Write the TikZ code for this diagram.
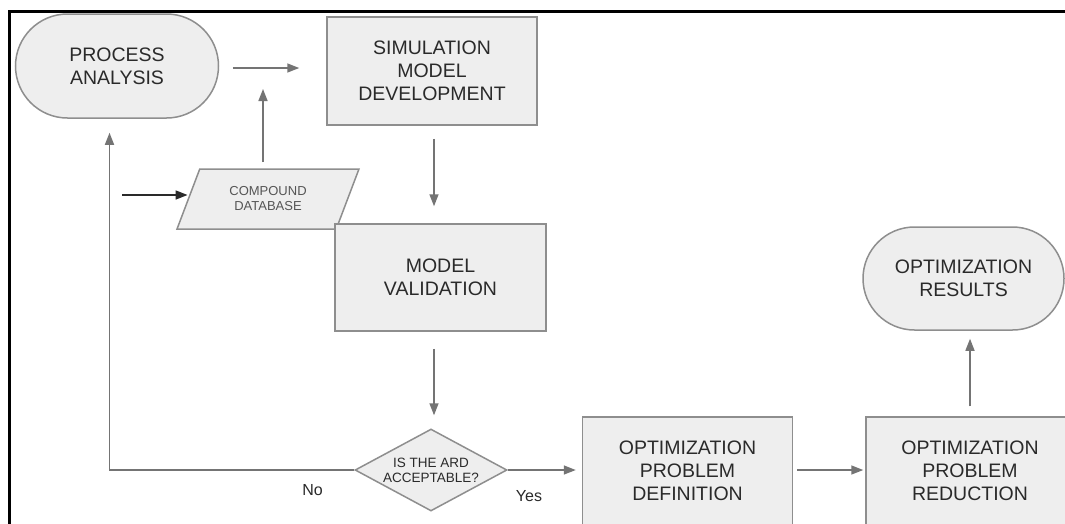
\documentclass[tikz,border=0pt]{standalone}
\usepackage{fontspec}
\setmainfont{Liberation Sans}
\usetikzlibrary{shapes.misc,shapes.geometric,arrows.meta}
\definecolor{boxfill}{HTML}{EEEEEE}
\definecolor{boxline}{HTML}{8E8E8E}
\definecolor{arrline}{HTML}{747474}
\definecolor{txt}{HTML}{2A2A2A}
\begin{document}
\begin{tikzpicture}[x=1pt,y=-1pt,
  base/.style={draw=boxline,fill=boxfill,line width=1.5pt,text=txt,align=center,inner sep=0pt,
    font=\fontsize{19.5}{23}\selectfont},
  term/.style={base,rounded rectangle},
  proc/.style={base,rectangle},
  data/.style={base,trapezium,trapezium left angle=62,trapezium right angle=118,trapezium stretches=true,
    font=\fontsize{13}{15}\selectfont,text=txt!80},
  decision/.style={base,diamond,aspect=1.85,font=\fontsize{13.5}{15}\selectfont},
  arr/.style={draw=arrline,line width=1.5pt,-{Triangle[length=12pt,width=9pt]}},
  darr/.style={draw=txt,line width=1.5pt,-{Triangle[length=12pt,width=9pt]}},
  lbl/.style={text=txt,inner sep=0pt,font=\fontsize{16}{18}\selectfont}]
\useasboundingbox[fill=white] (0,0) rectangle (1065,523);
% frame
\draw[line width=3pt,black] (9.5,530) -- (9.5,11.5) -- (1070,11.5);
% nodes
\node[term,minimum width=203pt,minimum height=104pt] (pa) at (117,66) {PROCESS\\ANALYSIS};
\node[proc,minimum width=210pt,minimum height=108pt] (smd) at (432,71) {SIMULATION\\MODEL\\DEVELOPMENT};
\node[data,minimum width=182pt,minimum height=60pt] (db) at (268,199) {COMPOUND\\DATABASE};
\node[proc,minimum width=211pt,minimum height=107pt] (mv) at (440.5,277.5) {MODEL\\VALIDATION};
\node[decision,minimum width=152pt,minimum height=82pt] (dia) at (431,470) {IS THE ARD\\ACCEPTABLE?};
\node[proc,minimum width=210pt,minimum height=108pt] (opd) at (687.5,471) {OPTIMIZATION\\PROBLEM\\DEFINITION};
\node[proc,minimum width=208pt,minimum height=108pt] (opr) at (970,471) {OPTIMIZATION\\PROBLEM\\REDUCTION};
\node[term,minimum width=201pt,minimum height=103pt] (ores) at (963.5,278.5) {OPTIMIZATION\\RESULTS};
\node[lbl] (no) at (312.5,490) {No};
\node[lbl] (yes) at (529,496) {Yes};
% free ends
\coordinate (dbin) at (122,195);
\coordinate (upA) at (263,162);
\coordinate (upB) at (263,89);
\coordinate (noc) at (109.5,470);
% connectors
\draw[arr,shorten <=13.5pt,shorten >=27pt] ([yshift=-2pt]pa.east) -- ([yshift=-2pt]pa.east -| smd.west);
\draw[arr] (upA) -- (upB);
\draw[darr] (dbin) -- (dbin -| db.left side);
\draw[arr,shorten <=13pt,shorten >=17pt] ([xshift=2pt]smd.south) -- ([xshift=2pt]smd.south |- mv.north);
\draw[arr,shorten <=17pt,shorten >=13pt] ([xshift=-6.5pt]mv.south) -- ([xshift=-6.5pt]mv.south |- dia.north);
\draw[arr,shorten >=14pt] (dia.west) -- (noc) -- (noc |- pa.south);
\draw[arr,shorten >=6pt] (dia.east) -- (dia.east -| opd.west);
\draw[arr,shorten <=4pt,shorten >=2pt] ([yshift=1pt]opd.east) -- ([yshift=1pt]opd.east -| opr.west);
\draw[arr,shorten <=10pt,shorten >=8pt] (opr.north) -- (opr.north |- ores.south);
\end{tikzpicture}
\end{document}
